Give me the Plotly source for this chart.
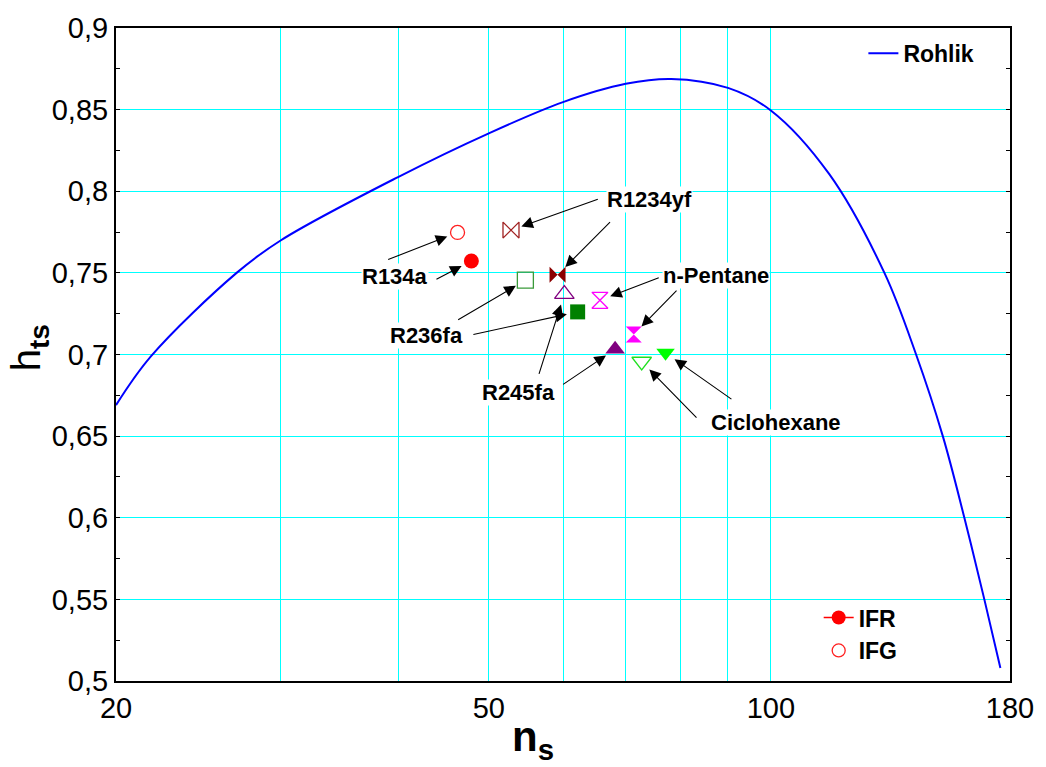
import numpy as np
import plotly.graph_objects as go

# ---- data ----
rohlik_ns = [20, 21.8, 26.9, 30, 40, 50, 60, 70, 78.3, 90, 100,
             115.4, 132.2, 142.9, 152.6, 160.9, 169.0, 175.8]
rohlik_hts = [0.669, 0.699, 0.750, 0.770, 0.8087, 0.8355, 0.8546, 0.8658,
              0.8688, 0.8633, 0.8495, 0.8106, 0.750, 0.700, 0.650,
              0.600, 0.550, 0.508]

fluids = ["R134a", "R1234yf", "R236fa", "R245fa", "n-Pentane", "Ciclohexane"]
ns_ifr = [47.9, 59.2, 62.2, 68.2, 71.4, 77.2]
hts_ifr = [0.7573, 0.7488, 0.7261, 0.7032, 0.7123, 0.7010]
ns_ifg = [46.3, 52.8, 54.7, 60.2, 65.7, 72.8]
hts_ifg = [0.7748, 0.7762, 0.7455, 0.7370, 0.7332, 0.6957]

x_tickvals = [20, 50, 100, 180]
x_ticktext = ["20", "50", "100", "180"]
x_minor_grid = [30, 40, 60, 70, 80, 90]

# ---- styles ----
sym_ifr = ["circle", "bowtie", "square", "triangle-up", "hourglass", "triangle-down"]
sym_ifg = ["circle-open", "bowtie-open", "square-open", "triangle-up-open",
           "hourglass-open", "triangle-down-open"]
col_ifr = ["#FF0000", "#8B0000", "#008000", "#800080", "#FF00FF", "#00FF00"]
col_ifg = ["#FF2020", "#A02020", "#3A9A3A", "#800080", "#FF00FF", "#20E020"]
size_ifr = [15, 16, 15, 17, 16, 16]
size_ifg = [14, 16, 16, 17, 16, 17]

# label positions and arrow tails (data units)
label_pos = {"R134a": (39.7, 0.748), "R236fa": (42.85, 0.7115), "R245fa": (53.8, 0.6769),
             "R1234yf": (74.2, 0.7948), "n-Pentane": (87.4, 0.7486),
             "Ciclohexane": (101.2, 0.6586)}
tail_ifg = {"R134a": (38.9, 0.7578), "R236fa": (46.2, 0.7207), "R245fa": (56.5, 0.6872),
            "R1234yf": (65.6, 0.7954), "n-Pentane": (76.2, 0.7474),
            "Ciclohexane": (83.6, 0.6604)}
tail_ifr = {"R134a": (43.8, 0.7456), "R236fa": (47.96, 0.7121), "R245fa": (59.8, 0.6811),
            "R1234yf": (67.6, 0.782), "n-Pentane": (79.6, 0.740),
            "Ciclohexane": (91.1, 0.672)}

FONT = "Liberation Sans, Arial, sans-serif"
GRID = "#00FFFF"

fig = go.Figure()

fig.add_trace(go.Scatter(x=rohlik_ns, y=rohlik_hts, mode="lines",
                         line=dict(color="#0000FF", width=2, shape="spline", smoothing=1.0),
                         name="<b>Rohlik</b>", legend="legend"))

for i, f in enumerate(fluids):
    fig.add_trace(go.Scatter(x=[ns_ifg[i]], y=[hts_ifg[i]], mode="markers",
                             marker=dict(symbol=sym_ifg[i], size=size_ifg[i], color=col_ifg[i],
                                         line=dict(width=1.3, color=col_ifg[i])),
                             showlegend=False))
    fig.add_trace(go.Scatter(x=[ns_ifr[i]], y=[hts_ifr[i]], mode="markers",
                             marker=dict(symbol=sym_ifr[i], size=size_ifr[i], color=col_ifr[i],
                                         line=dict(width=0)),
                             showlegend=False))

# legend-only entries
fig.add_trace(go.Scatter(x=[None], y=[None], mode="lines+markers", name="<b>IFR</b>",
                         line=dict(color="#FF0000", width=1.5),
                         marker=dict(symbol="circle", size=14, color="#FF0000"),
                         legend="legend2"))
fig.add_trace(go.Scatter(x=[None], y=[None], mode="markers", name="<b>IFG</b>",
                         marker=dict(symbol="circle-open", size=13, color="#FF2020",
                                     line=dict(width=1.3)),
                         legend="legend2"))

ann = []
for i, f in enumerate(fluids):
    lx, ly = label_pos[f]
    ann.append(dict(x=np.log10(lx), y=ly, xref="x", yref="y", text="<b>%s</b>" % f,
                    showarrow=False, font=dict(family=FONT, size=22, color="black"),
                    bgcolor="white", borderpad=0))
for i, f in enumerate(fluids):
    for (tx, ty), px, py in ((tail_ifg[f], ns_ifg[i], hts_ifg[i]),
                             (tail_ifr[f], ns_ifr[i], hts_ifr[i])):
        ann.append(dict(x=np.log10(px), y=py, xref="x", yref="y",
                        ax=np.log10(tx), ay=ty, axref="x", ayref="y", text="",
                        showarrow=True, arrowhead=2, arrowsize=2.1, arrowwidth=1.1,
                        arrowcolor="black", standoff=11))

ann.append(dict(x=0.467, y=-0.089, xref="paper", yref="paper",
                text="<b>n<sub>s</sub></b>", showarrow=False,
                font=dict(family=FONT, size=42, color="black"),
                xanchor="center", yanchor="middle"))
ann.append(dict(x=-0.097, y=0.51, xref="paper", yref="paper",
                text="h<sub><b>ts</b></sub>", showarrow=False, textangle=-90,
                font=dict(family=FONT, size=40, color="black"),
                xanchor="center", yanchor="middle"))

fig.update_layout(
    width=1046, height=767,
    margin=dict(l=116, r=33, t=23, b=86),
    paper_bgcolor="white", plot_bgcolor="white",
    separators=",.",
    font=dict(family=FONT, color="black"),
    annotations=ann,
    legend=dict(x=0.836, y=0.994, xanchor="left", yanchor="top",
                bgcolor="rgba(0,0,0,0)", font=dict(family=FONT, size=23, color="black")),
    legend2=dict(x=0.786, y=0.130, xanchor="left", yanchor="top",
                 bgcolor="rgba(0,0,0,0)", font=dict(family=FONT, size=23, color="black")),
)

fig.update_xaxes(type="log", range=[np.log10(20), np.log10(180)],
                 tickmode="array", tickvals=x_tickvals, ticktext=x_ticktext,
                 showgrid=True, gridcolor=GRID, gridwidth=1,
                 minor=dict(tickmode="array", tickvals=x_minor_grid, showgrid=True,
                            gridcolor=GRID, gridwidth=1, ticks=""),
                 ticks="", ticklabelstandoff=0,
                 tickfont=dict(family=FONT, size=29, color="black"),
                 showline=True, linecolor="black", linewidth=2, mirror=True,
                 zeroline=False)
fig.update_yaxes(range=[0.5, 0.9], dtick=0.05, tick0=0.5,
                 showgrid=True, gridcolor=GRID, gridwidth=1,
                 ticks="inside", ticklen=4, tickcolor="black",
                 minor=dict(dtick=0.025, tick0=0.5, ticks="inside", ticklen=4,
                            tickcolor="black", showgrid=False),
                 tickfont=dict(family=FONT, size=29, color="black"),
                 showline=True, linecolor="black", linewidth=2, mirror="ticks",
                 zeroline=False)

fig.write_html("out.html")
